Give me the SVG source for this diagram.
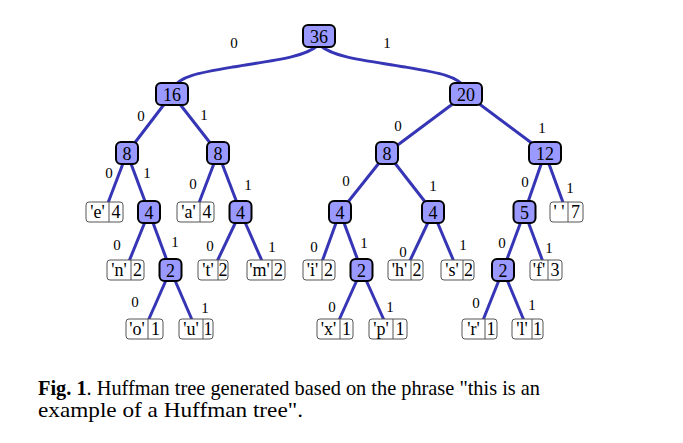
<svg xmlns="http://www.w3.org/2000/svg" width="683" height="443" viewBox="0 0 683 443">
<style>
.e{stroke:#3535b5;stroke-width:3;fill:none}
.in rect{fill:#9999ff;stroke:#000;stroke-width:2}
.lf rect{fill:#fff;stroke:#555;stroke-width:1}
.lf line{stroke:#555;stroke-width:1}
text{font-family:"Liberation Serif","Times New Roman",serif;fill:#000}
.t{font-size:18px;text-anchor:middle}
.l{font-size:15px;text-anchor:middle}
.c{font-size:21px}
</style>
<rect width="683" height="443" fill="#fff"/>
<g id="edges">
<path class="e" d="M317,46 C303,58 268,61 233,67 C198,73 180,76 173,88"/>
<path class="e" d="M321,46 C335,58 370,61 405,67 C440,73 458,76 465,88"/>
<line class="e" x1="172" y1="94" x2="127" y2="153"/>
<line class="e" x1="172" y1="94" x2="218" y2="153"/>
<line class="e" x1="466" y1="94" x2="387" y2="153"/>
<line class="e" x1="466" y1="94" x2="545" y2="153"/>
<line class="e" x1="127" y1="153" x2="104.5" y2="212"/>
<line class="e" x1="127" y1="153" x2="149" y2="212"/>
<line class="e" x1="218" y1="153" x2="195.5" y2="212"/>
<line class="e" x1="218" y1="153" x2="240.5" y2="212"/>
<line class="e" x1="387" y1="153" x2="340" y2="212"/>
<line class="e" x1="387" y1="153" x2="433" y2="212"/>
<line class="e" x1="545" y1="153" x2="524.5" y2="212"/>
<line class="e" x1="545" y1="153" x2="566.5" y2="212"/>
<line class="e" x1="149" y1="212" x2="125.5" y2="270"/>
<line class="e" x1="149" y1="212" x2="170.5" y2="270"/>
<line class="e" x1="240.5" y1="212" x2="213" y2="270"/>
<line class="e" x1="240.5" y1="212" x2="266" y2="270"/>
<line class="e" x1="340" y1="212" x2="319" y2="270"/>
<line class="e" x1="340" y1="212" x2="361.5" y2="270"/>
<line class="e" x1="433" y1="212" x2="405.5" y2="270"/>
<line class="e" x1="433" y1="212" x2="457.5" y2="270"/>
<line class="e" x1="524.5" y1="212" x2="503" y2="270"/>
<line class="e" x1="524.5" y1="212" x2="546" y2="270"/>
<line class="e" x1="170.5" y1="270" x2="144.5" y2="329"/>
<line class="e" x1="170.5" y1="270" x2="196" y2="329"/>
<line class="e" x1="361.5" y1="270" x2="335" y2="329"/>
<line class="e" x1="361.5" y1="270" x2="388" y2="329"/>
<line class="e" x1="503" y1="270" x2="479.5" y2="329"/>
<line class="e" x1="503" y1="270" x2="527.5" y2="329"/>
</g>
<g id="edge-labels" class="l">
<text x="234" y="48">0</text><text x="387" y="48">1</text>
<text x="141" y="121">0</text><text x="204" y="120">1</text>
<text x="398" y="131">0</text><text x="542" y="133">1</text>
<text x="109" y="178">0</text><text x="147" y="178">1</text>
<text x="193" y="189">0</text><text x="248" y="190">1</text>
<text x="346" y="186">0</text><text x="433" y="191">1</text>
<text x="525" y="187">0</text><text x="570" y="193">1</text>
<text x="117" y="250">0</text><text x="175" y="247">1</text>
<text x="210" y="251">0</text><text x="272" y="252">1</text>
<text x="314" y="252">0</text><text x="364" y="248">1</text>
<text x="403" y="257">0</text><text x="463" y="250">1</text>
<text x="502" y="248">0</text><text x="549" y="253">1</text>
<text x="135" y="307">0</text><text x="205" y="313">1</text>
<text x="332" y="312">0</text><text x="390" y="312">1</text>
<text x="476" y="308">0</text><text x="532" y="310">1</text>
</g>
<g id="n36" class="in"><rect x="303" y="25" width="32" height="22" rx="5"/><text class="t" x="319" y="42.5">36</text></g>
<g id="n16" class="in"><rect x="156" y="83" width="32" height="22" rx="5"/><text class="t" x="172" y="100.5">16</text></g>
<g id="n20" class="in"><rect x="450" y="83" width="32" height="22" rx="5"/><text class="t" x="466" y="100.5">20</text></g>
<g id="n8a" class="in"><rect x="116" y="142" width="22" height="22" rx="5"/><text class="t" x="127" y="159.5">8</text></g>
<g id="n8b" class="in"><rect x="207" y="142" width="22" height="22" rx="5"/><text class="t" x="218" y="159.5">8</text></g>
<g id="n8c" class="in"><rect x="376" y="142" width="22" height="22" rx="5"/><text class="t" x="387" y="159.5">8</text></g>
<g id="n12" class="in"><rect x="529" y="142" width="32" height="22" rx="5"/><text class="t" x="545" y="159.5">12</text></g>
<g id="n4a" class="in"><rect x="138" y="201" width="22" height="22" rx="5"/><text class="t" x="149" y="218.5">4</text></g>
<g id="n4b" class="in"><rect x="229.5" y="201" width="22" height="22" rx="5"/><text class="t" x="240.5" y="218.5">4</text></g>
<g id="n4c" class="in"><rect x="329" y="201" width="22" height="22" rx="5"/><text class="t" x="340" y="218.5">4</text></g>
<g id="n4d" class="in"><rect x="422" y="201" width="22" height="22" rx="5"/><text class="t" x="433" y="218.5">4</text></g>
<g id="n5" class="in"><rect x="513.5" y="201" width="22" height="22" rx="5"/><text class="t" x="524.5" y="218.5">5</text></g>
<g id="n2a" class="in"><rect x="159.5" y="259" width="22" height="22" rx="5"/><text class="t" x="170.5" y="276.5">2</text></g>
<g id="n2b" class="in"><rect x="350.5" y="259" width="22" height="22" rx="5"/><text class="t" x="361.5" y="276.5">2</text></g>
<g id="n2c" class="in"><rect x="492" y="259" width="22" height="22" rx="5"/><text class="t" x="503" y="276.5">2</text></g>
<g id="leaf-e" class="lf"><rect x="86" y="202" width="37" height="20" rx="3"/><line x1="109" y1="202" x2="109" y2="222"/><text class="t" x="97.5" y="218">'e'</text><text class="t" x="116" y="218">4</text></g>
<g id="leaf-a" class="lf"><rect x="177" y="202" width="37" height="20" rx="3"/><line x1="200" y1="202" x2="200" y2="222"/><text class="t" x="188.5" y="218">'a'</text><text class="t" x="207" y="218">4</text></g>
<g id="leaf-space" class="lf"><rect x="550" y="202" width="33" height="20" rx="3"/><line x1="568" y1="202" x2="568" y2="222"/><text class="t" x="559" y="218">' '</text><text class="t" x="575.5" y="218">7</text></g>
<g id="leaf-n" class="lf"><rect x="107" y="260" width="37" height="20" rx="3"/><line x1="131" y1="260" x2="131" y2="280"/><text class="t" x="119" y="276">'n'</text><text class="t" x="137.5" y="276">2</text></g>
<g id="leaf-t" class="lf"><rect x="198" y="260" width="30" height="20" rx="3"/><line x1="218" y1="260" x2="218" y2="280"/><text class="t" x="208" y="276">'t'</text><text class="t" x="223" y="276">2</text></g>
<g id="leaf-m" class="lf"><rect x="247" y="260" width="38" height="20" rx="3"/><line x1="272" y1="260" x2="272" y2="280"/><text class="t" x="259.5" y="276">'m'</text><text class="t" x="278.5" y="276">2</text></g>
<g id="leaf-i" class="lf"><rect x="303" y="260" width="32" height="20" rx="3"/><line x1="322" y1="260" x2="322" y2="280"/><text class="t" x="312.5" y="276">'i'</text><text class="t" x="328.5" y="276">2</text></g>
<g id="leaf-h" class="lf"><rect x="388" y="260" width="35" height="20" rx="3"/><line x1="411" y1="260" x2="411" y2="280"/><text class="t" x="399.5" y="276">'h'</text><text class="t" x="417" y="276">2</text></g>
<g id="leaf-s" class="lf"><rect x="441" y="260" width="33" height="20" rx="3"/><line x1="463" y1="260" x2="463" y2="280"/><text class="t" x="452" y="276">'s'</text><text class="t" x="468.5" y="276">2</text></g>
<g id="leaf-f" class="lf"><rect x="530" y="260" width="32" height="20" rx="3"/><line x1="548" y1="260" x2="548" y2="280"/><text class="t" x="539" y="276">'f'</text><text class="t" x="555" y="276">3</text></g>
<g id="leaf-o" class="lf"><rect x="126" y="319" width="37" height="20" rx="3"/><line x1="148" y1="319" x2="148" y2="339"/><text class="t" x="137" y="335">'o'</text><text class="t" x="155.5" y="335">1</text></g>
<g id="leaf-u" class="lf"><rect x="179" y="319" width="34" height="20" rx="3"/><line x1="203" y1="319" x2="203" y2="339"/><text class="t" x="191" y="335">'u'</text><text class="t" x="208" y="335">1</text></g>
<g id="leaf-x" class="lf"><rect x="317" y="319" width="36" height="20" rx="3"/><line x1="340" y1="319" x2="340" y2="339"/><text class="t" x="328.5" y="335">'x'</text><text class="t" x="346.5" y="335">1</text></g>
<g id="leaf-p" class="lf"><rect x="369" y="319" width="38" height="20" rx="3"/><line x1="393" y1="319" x2="393" y2="339"/><text class="t" x="381" y="335">'p'</text><text class="t" x="400" y="335">1</text></g>
<g id="leaf-r" class="lf"><rect x="462" y="319" width="35" height="20" rx="3"/><line x1="485" y1="319" x2="485" y2="339"/><text class="t" x="473.5" y="335">'r'</text><text class="t" x="491" y="335">1</text></g>
<g id="leaf-l" class="lf"><rect x="512" y="319" width="31" height="20" rx="3"/><line x1="532" y1="319" x2="532" y2="339"/><text class="t" x="522" y="335">'l'</text><text class="t" x="537.5" y="335">1</text></g>
<g id="caption" class="c">
<text x="38" y="395" textLength="502" lengthAdjust="spacingAndGlyphs"><tspan font-weight="bold">Fig. 1</tspan>. Huffman tree generated based on the phrase "this is an</text>
<text x="38" y="417" textLength="265" lengthAdjust="spacingAndGlyphs">example of a Huffman tree".</text>
</g>
</svg>
